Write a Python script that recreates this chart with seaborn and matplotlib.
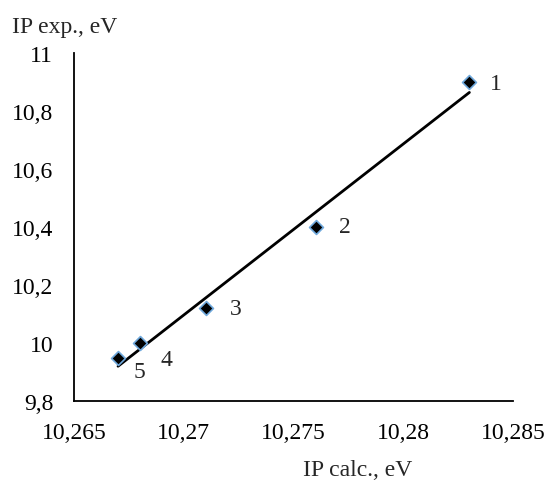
import numpy as np
import pandas as pd
import matplotlib
matplotlib.use("Agg")
import matplotlib.pyplot as plt
from matplotlib.ticker import FuncFormatter, MultipleLocator
import seaborn as sns

# values
ip_calc = [10.283, 10.276, 10.271, 10.268, 10.267]
ip_exp = [10.90, 10.40, 10.12, 10.00, 9.95]
point_labels = ["1", "2", "3", "4", "5"]

df = pd.DataFrame({"calc": ip_calc, "exp": ip_exp, "lab": point_labels})

sns.set_style("white")
plt.rcParams["font.family"] = ["Liberation Serif", "DejaVu Serif"]
FS = 17

fig = plt.figure(figsize=(5.49, 4.81), dpi=100)
ax = fig.add_axes([0.135, 0.164, 0.80, 0.724])

# trendline + points
sns.regplot(data=df, x="calc", y="exp", ax=ax, ci=None, scatter=False,
            line_kws={"color": "black", "lw": 2})
sns.scatterplot(data=df, x="calc", y="exp", ax=ax, marker="D", s=50,
                color="black", edgecolor="#6fa8dc", linewidth=1.2, zorder=5)

# point numbers (offsets in points)
offs = {"1": (15, -1), "2": (16.5, 0), "3": (17, 0), "4": (14.5, -12), "5": (11, -10)}
for _, r in df.iterrows():
    ax.annotate(r["lab"], (r["calc"], r["exp"]), xytext=offs[r["lab"]],
                textcoords="offset points", fontsize=FS, va="center")

ax.set_xlim(10.265, 10.285)
ax.set_ylim(9.8, 11.0)
ax.xaxis.set_major_locator(MultipleLocator(0.005))
ax.yaxis.set_major_locator(MultipleLocator(0.2))
comma = FuncFormatter(lambda v, p: ("%g" % round(v, 4)).replace(".", ","))
ax.xaxis.set_major_formatter(comma)
ax.yaxis.set_major_formatter(comma)

for s in ["top", "right"]:
    ax.spines[s].set_visible(False)
for s in ["left", "bottom"]:
    ax.spines[s].set_color("black")
    ax.spines[s].set_linewidth(1.3)
ax.tick_params(direction="in", length=6, width=1.3, labelsize=FS, colors="black")
ax.tick_params(axis="x", pad=15)
ax.tick_params(axis="y", pad=15)

ax.set_xlabel("")
ax.set_ylabel("")
fig.text(0.552, 0.01, "IP calc., eV", fontsize=FS)
fig.text(0.022, 0.931, "IP exp., eV", fontsize=FS)

fig.savefig("out.png", dpi=100)
